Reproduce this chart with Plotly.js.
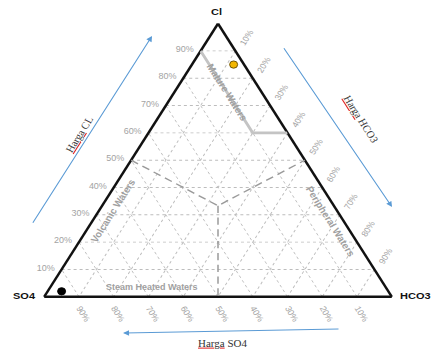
<!DOCTYPE html>
<html>
<head>
<meta charset="utf-8">
<script src="https://cdn.plot.ly/plotly-3.0.1.min.js"></script>
<style>
html,body{margin:0;padding:0;width:431px;height:356px;overflow:hidden;background:#fff;}
#plot{width:431px;height:392px;transform:scaleY(0.9075);transform-origin:0 0;}
</style>
</head>
<body>
<div id="plot"></div>
<script>
// ---- data ----
const vertexNames = ['Cl', 'SO4', 'HCO3'];
const tickValues = [10, 20, 30, 40, 50, 60, 70, 80, 90];
const tickLabels = ['10%', '20%', '30%', '40%', '50%', '60%', '70%', '80%', '90%'];

const sampleCl   = [85, 2];
const sampleSO4  = [3, 94];
const sampleHCO3 = [12, 4];
const sampleColors = ['#f2b600', '#000000'];
const sampleLines  = ['#6b5000', '#000000'];

const matureCl   = [90, 60, 60];
const matureSO4  = [10, 10, 0];
const matureHCO3 = [0, 30, 40];

const medianCl   = [50, 33.33, 50];
const medianSO4  = [50, 33.33, 0];
const medianHCO3 = [0, 33.33, 50];
const medianDownCl   = [33.33, 0];
const medianDownSO4  = [33.33, 50];
const medianDownHCO3 = [33.33, 50];

const regionNames = ['Mature Waters', 'Volcanic Waters', 'Peripheral Waters', 'Steam Heated Waters'];
const arrowWord = 'Harga';
const arrowTargets = ['CL', 'HCO3', 'SO4'];

// ---- geometry helpers (screen px -> paper) ----
const S = 0.9075, ML = 44, MT = 26, PW = 348, PH = 301;
function px(X) { return (X - ML) / PW; }
function py(Y) { return 1 - (Y / S - MT) / PH; }

const gridCol = '#bdbdbd';
const tickFont = {family: 'Arial, Liberation Sans, sans-serif', size: 9, color: '#a3a3a3'};
function axisCfg(angle, len) {
  return {
    title: {text: ''},
    tickmode: 'array', tickvals: tickValues, ticktext: tickLabels,
    tickfont: tickFont, tickangle: angle,
    ticks: 'outside', ticklen: len, tickcolor: 'rgba(0,0,0,0)',
    showline: true, linecolor: '#111', linewidth: 2.6,
    showgrid: true, gridcolor: gridCol, gridwidth: 1, griddash: 'dot',
    layer: 'below traces'
  };
}

const traces = [
  {type: 'scatterternary', mode: 'lines', a: matureCl, b: matureSO4, c: matureHCO3,
   line: {color: '#c4c4c4', width: 3}, hoverinfo: 'skip', showlegend: false},
  {type: 'scatterternary', mode: 'lines', a: medianCl, b: medianSO4, c: medianHCO3,
   line: {color: '#9a9a9a', width: 1.5, dash: '8px,5px'}, hoverinfo: 'skip', showlegend: false},
  {type: 'scatterternary', mode: 'lines', a: medianDownCl, b: medianDownSO4, c: medianDownHCO3,
   line: {color: '#9a9a9a', width: 1.5, dash: '8px,5px'}, hoverinfo: 'skip', showlegend: false},
  {type: 'scatterternary', mode: 'markers', a: sampleCl, b: sampleSO4, c: sampleHCO3,
   marker: {color: sampleColors, size: 8, line: {color: sampleLines, width: 1}},
   showlegend: false}
];

const regFont = {family: 'Arial, Liberation Sans, sans-serif', size: 10.3, color: '#a0a0a0'};
const regFontH = {family: 'Arial, Liberation Sans, sans-serif', size: 9, color: '#a0a0a0'};
const vFont = {family: 'Arial, Liberation Sans, sans-serif', size: 11, color: '#111'};
const hFont = {family: 'Liberation Serif, Times New Roman, serif', size: 11, color: '#333'};
function lab(text, X, Y, ang, font, xa) {
  return {text: text, xref: 'paper', yref: 'paper', x: px(X), y: py(Y), textangle: ang,
          showarrow: false, font: font, xanchor: xa || 'center', yanchor: 'middle'};
}
function harga(target) {
  return '<span style="fill:#e02020;text-decoration:underline wavy"><span style="fill:#333">' +
         arrowWord + '</span></span> ' + target;
}
function arrow(Xh, Yh, Xt, Yt) {
  return {text: '', xref: 'paper', yref: 'paper', x: px(Xh), y: py(Yh),
          axref: 'pixel', ayref: 'pixel', ax: Xt - Xh, ay: (Yt - Yh) / S,
          showarrow: true, arrowhead: 2, arrowsize: 1.1, arrowwidth: 1.1,
          arrowcolor: '#5b9bd5', standoff: 0, startstandoff: 0};
}

const annotations = [
  lab('<b>' + vertexNames[0] + '</b>', 216, 12, 0, vFont),
  lab('<b>' + vertexNames[1] + '</b>', 24, 296, 0, vFont),
  lab('<b>' + vertexNames[2] + '</b>', 398, 296, 0, vFont, 'left'),
  lab('<b>' + regionNames[0] + '</b>', 227, 92, 60, regFont),
  lab('<b>' + regionNames[1] + '</b>', 113, 211, -60, regFont),
  lab('<b>' + regionNames[2] + '</b>', 330, 221, 60, regFont),
  lab('<b>' + regionNames[3] + '</b>', 152, 288, 0, regFontH),
  lab(harga(arrowTargets[0]), 79, 134, -60, hFont),
  lab(harga(arrowTargets[1]), 361, 119, 60, hFont),
  lab(harga(arrowTargets[2]), 222, 343, 0, hFont),
  arrow(152, 36, 32, 224),
  arrow(392, 207, 283, 47),
  arrow(123, 333, 340, 329)
];

const layout = {
  width: 431, height: 392,
  margin: {l: ML, r: 431 - ML - PW, t: MT, b: 392 - MT - PH},
  paper_bgcolor: '#fff',
  showlegend: false,
  ternary: {
    sum: 100, bgcolor: '#fff',
    domain: {x: [0, 1], y: [0, 1]},
    aaxis: axisCfg(0, 4),
    baxis: axisCfg(60, 2),
    caxis: axisCfg(-60, 5)
  },
  annotations: annotations
};

Plotly.newPlot('plot', traces, layout, {staticPlot: true, displayModeBar: false});
</script>
</body>
</html>
